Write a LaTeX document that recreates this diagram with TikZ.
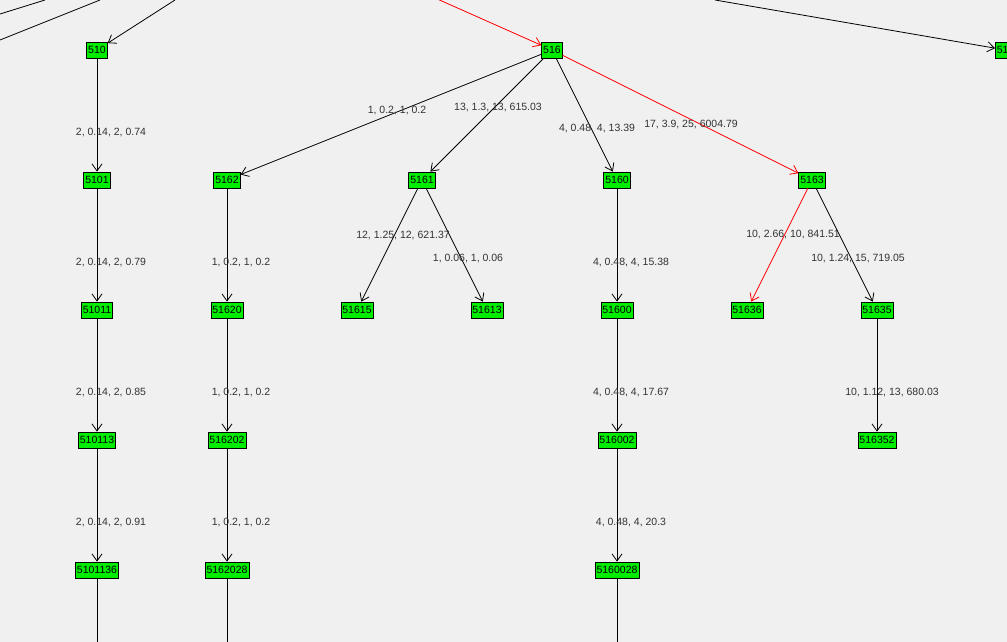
\documentclass[tikz,border=0pt]{standalone}
\usepackage{fontspec}
\setmainfont{Liberation Sans}
\usetikzlibrary{arrows.meta}
\begin{document}
\begin{tikzpicture}[x=1pt,y=-1pt,
  nd/.style={draw=black,fill=green!93!black,line width=0.8pt,inner xsep=1.5pt,inner ysep=1pt,minimum height=16pt,font=\fontsize{10.5}{11}\selectfont},
  ed/.style={draw=black,line width=0.8pt,-{Straight Barb[length=7pt,width=10pt]}},
  red/.style={draw=red},
  lb/.style={font=\fontsize{10.5}{11}\selectfont,text=black!80}]
\fill[gray!12] (0,0) rectangle (1007,642);
\useasboundingbox (0,0) rectangle (1007,642);
\clip (0,0) rectangle (1007,642);
\node[nd] (a) at (97,50) {510};
\node[nd] (b) at (552,50) {516};
\node[nd,anchor=west] (c) at (995,50) {517};
\node[nd] (a1) at (97,180) {5101};
\node[nd] (b2) at (227,180) {5162};
\node[nd] (b1) at (422,180) {5161};
\node[nd] (b0) at (617,180) {5160};
\node[nd] (b3) at (812,180) {5163};
\node[nd] (a11) at (97,310) {51011};
\node[nd] (b20) at (227,310) {51620};
\node[nd] (b15) at (357,310) {51615};
\node[nd] (b13) at (487,310) {51613};
\node[nd] (b00) at (617,310) {51600};
\node[nd] (b36) at (747,310) {51636};
\node[nd] (b35) at (877,310) {51635};
\node[nd] (a113) at (97,440) {510113};
\node[nd] (b202) at (227,440) {516202};
\node[nd] (b002) at (617,440) {516002};
\node[nd] (b352) at (877,440) {516352};
\node[nd] (a1136) at (97,570) {5101136};
\node[nd] (b2028) at (227,570) {5162028};
\node[nd] (b0028) at (617,570) {5160028};
\coordinate (t1) at (175,0); \coordinate (t2) at (435,-2); \coordinate (t3) at (715,0);
\coordinate (d1) at (97,650); \coordinate (d2) at (227,650); \coordinate (d3) at (617,650);
\draw[line width=0.8pt] (100,0) -- (0,40);
\draw[line width=0.8pt] (45,0) -- (0,14);
\draw[ed] (t1) -- (a);
\draw[ed,red] (t2) -- (b);
\draw[ed] (t3) -- (c);
\draw[ed] (a) -- (a1);
\draw[ed] (a1) -- (a11);
\draw[ed] (a11) -- (a113);
\draw[ed] (a113) -- (a1136);
\draw[line width=0.8pt] (a1136) -- (d1);
\draw[ed] (b) -- (b2);
\draw[ed] (b) -- (b1);
\draw[ed] (b) -- (b0);
\draw[ed,red] (b) -- (b3);
\draw[ed] (b2) -- (b20);
\draw[ed] (b20) -- (b202);
\draw[ed] (b202) -- (b2028);
\draw[line width=0.8pt] (b2028) -- (d2);
\draw[ed] (b1) -- (b15);
\draw[ed] (b1) -- (b13);
\draw[ed] (b0) -- (b00);
\draw[ed] (b00) -- (b002);
\draw[ed] (b002) -- (b0028);
\draw[line width=0.8pt] (b0028) -- (d3);
\draw[ed,red] (b3) -- (b36);
\draw[ed] (b3) -- (b35);
\draw[ed] (b35) -- (b352);
\node[lb] at (111,133) {2, 0.14, 2, 0.74};
\node[lb] at (111,263) {2, 0.14, 2, 0.79};
\node[lb] at (111,393) {2, 0.14, 2, 0.85};
\node[lb] at (111,523) {2, 0.14, 2, 0.91};
\node[lb] at (241,263) {1, 0.2, 1, 0.2};
\node[lb] at (241,393) {1, 0.2, 1, 0.2};
\node[lb] at (241,523) {1, 0.2, 1, 0.2};
\node[lb] at (397,111) {1, 0.2, 1, 0.2};
\node[lb] at (498,108) {13, 1.3, 13, 615.03};
\node[lb] at (597,129) {4, 0.48, 4, 13.39};
\node[lb] at (691,125) {17, 3.9, 25, 6004.79};
\node[lb] at (403,236) {12, 1.25, 12, 621.37};
\node[lb] at (468,259) {1, 0.06, 1, 0.06};
\node[lb] at (631,263) {4, 0.48, 4, 15.38};
\node[lb] at (631,393) {4, 0.48, 4, 17.67};
\node[lb] at (631,523) {4, 0.48, 4, 20.3};
\node[lb] at (793,235) {10, 2.66, 10, 841.51};
\node[lb] at (858,259) {10, 1.24, 15, 719.05};
\node[lb] at (892,393) {10, 1.12, 13, 680.03};
\end{tikzpicture}
\end{document}
